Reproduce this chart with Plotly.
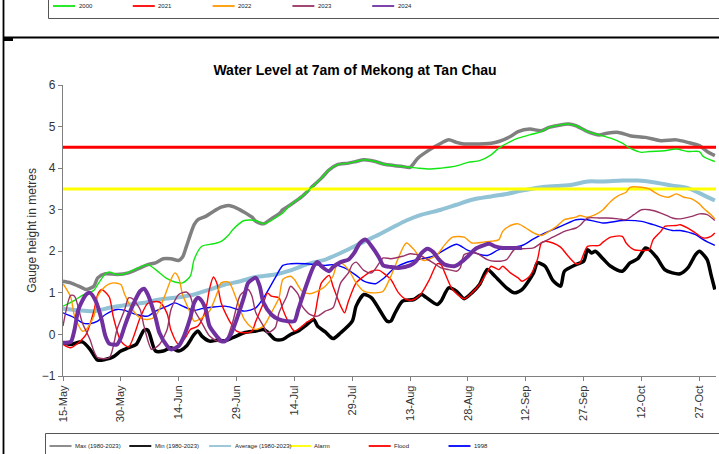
import plotly.graph_objects as go

# ---------------- data (day offset from 15-May, gauge height in metres) ----------------
TICK_DAYS = [0, 15, 30, 45, 60, 75, 90, 105, 120, 135, 150, 165]
TICK_LABELS = ["15-May", "30-May", "14-Jun", "29-Jun", "14-Jul", "29-Jul",
               "13-Aug", "28-Aug", "12-Sep", "27-Sep", "12-Oct", "27-Oct"]

ALARM_LEVEL = 3.5
FLOOD_LEVEL = 4.5
LAST_DAY = 169

MAX_1980_2023 = [(0,1.28),(2,1.24),(5,1.12),(6,1.08),(8,1.16),(9,1.36),(11,1.46),(14,1.44),(17,1.48),
    (20,1.6),(22,1.68),(24,1.72),(26,1.82),(28,1.82),(30,1.78),(31,1.86),(32,2.12),(34,2.64),(35,2.76),
    (37,2.84),(39,2.96),(41,3.06),(43,3.1),(45,3.04),(47,2.94),(49,2.82),(50,2.72),(52,2.66),(54,2.78),
    (56,2.9),(57,3.0),(59,3.12),(62,3.32),(64,3.5),(67,3.76),(69,3.96),(71,4.08),(74,4.12),(76,4.16),
    (78,4.2),(81,4.16),(83,4.1),(86,4.06),(88,4.04),(90,4.02),(92,4.24),(95,4.44),(98,4.6),(100,4.68),
    (102,4.62),(104,4.58),(106,4.58),(111,4.6),(113,4.64),(116,4.76),(118,4.88),(121,4.94),(124,4.9),
    (126,4.98),(129,5.04),(131,5.06),(133,5.02),(136,4.88),(139,4.8),(141,4.84),(144,4.86),(147,4.78),
    (151,4.74),(155,4.66),(159,4.68),(162,4.62),(165,4.54),(167,4.4),(169,4.3)]

MIN_1980_2023 = [(0,-0.2),(2,-0.24),(5,-0.18),(7,-0.36),(8,-0.5),(9,-0.62),(11,-0.6),(13,-0.54),
    (15,-0.4),(17,-0.32),(19,-0.24),(21,0.1),(22,0.1),(24,-0.4),(26,-0.4),(28,-0.32),(30,-0.4),
    (32,-0.28),(34,0.0),(35,0.08),(36,-0.04),(38,-0.16),(40,-0.14),(42,-0.15),(44,-0.08),(47,0.04),
    (50,0.08),(52,0.12),(53,0.06),(55,-0.12),(57,-0.12),(59,0.0),(61,0.08),(63,0.22),(65,0.36),
    (66,0.2),(68,0.06),(70,-0.1),(72,0.04),(75,0.32),(76,0.68),(78,0.96),(80,0.88),(82,0.6),(84,0.32),
    (85,0.32),(86,0.5),(88,0.8),(91,0.84),(93,0.96),(94,0.9),(97,0.72),(98,0.8),(100,1.12),(102,1.04),
    (104,0.86),(106,1.0),(108,1.2),(110,1.56),(112,1.4),(115,1.12),(117,1.0),(119,1.08),(122,1.48),
    (123,1.72),(125,1.64),(127,1.3),(129,1.16),(130,1.52),(133,1.68),(135,1.76),(136,2.04),(137,1.96),
    (138,2.0),(140,1.82),(142,1.64),(145,1.52),(147,1.72),(149,1.82),(151,2.08),(152,2.04),(154,1.84),
    (156,1.56),(158,1.48),(160,1.46),(162,1.6),(164,1.92),(165,2.0),(167,1.8),(168,1.44),(169,1.08)]

AVERAGE_1980_2023 = [(0,0.62),(4,0.58),(8,0.56),(12,0.64),(16,0.7),(21,0.76),(25,0.84),(29,0.88),
    (34,0.96),(38,1.08),(42,1.2),(46,1.28),(50,1.38),(55,1.44),(59,1.54),(63,1.68),(68,1.8),(72,1.96),
    (76,2.14),(81,2.36),(86,2.6),(89,2.74),(93,2.88),(98,3.0),(102,3.12),(106,3.24),(111,3.32),
    (115,3.38),(119,3.46),(124,3.54),(128,3.57),(132,3.6),(136,3.68),(140,3.68),(145,3.7),(149,3.7),
    (153,3.66),(158,3.58),(162,3.52),(165,3.4),(169,3.22)]

Y1998 = [(0,0.52),(3,0.4),(5,0.28),(7,0.26),(9,0.32),(11,0.48),(14,0.6),(16,0.58),(19,0.48),(22,0.44),
    (24,0.56),(27,0.68),(29,0.76),(31,0.68),(34,0.58),(36,0.62),(39,0.66),(42,0.68),(44,0.64),(47,0.56),
    (50,0.64),(52,0.88),(55,1.36),(57,1.66),(59,1.7),(63,1.7),(68,1.66),(70,1.68),(73,1.6),(76,1.42),
    (78,1.28),(81,1.22),(83,1.34),(86,1.6),(89,1.73),(92,1.8),(96,1.88),(102,2.17),(105,2.02),(110,1.9),
    (113,2.04),(119,2.14),(122,2.3),(125,2.44),(128,2.56),(130,2.64),(133,2.76),(136,2.76),(140,2.68),
    (145,2.74),(150,2.72),(153,2.64),(158,2.5),(160,2.5),(164,2.4),(166,2.28),(169,2.14)]

Y2000 = [(0,0.68),(3,0.82),(5,0.94),(8,1.06),(9,1.2),(11,1.46),(12,1.5),(14,1.44),(16,1.46),(19,1.58),
    (22,1.68),(24,1.56),(27,1.34),(29,1.26),(31,1.24),(33,1.4),(34,1.8),(36,2.12),(39,2.18),(41,2.24),
    (43,2.4),(44,2.52),(47,2.74),(50,2.74),(52,2.66),(54,2.74),(56,2.86),(57,2.92),(59,3.12),(62,3.32),
    (64,3.5),(67,3.76),(69,3.96),(71,4.08),(74,4.12),(76,4.16),(78,4.2),(81,4.16),(83,4.1),(86,4.06),
    (88,4.04),(90,4.02),(92,4.0),(95,3.98),(98,4.0),(100,4.02),(103,4.08),(105,4.14),(108,4.18),
    (111,4.32),(113,4.48),(116,4.64),(118,4.72),(121,4.8),(124,4.88),(126,4.98),(129,5.04),(131,5.06),
    (133,5.02),(136,4.88),(139,4.8),(142,4.72),(145,4.6),(147,4.48),(150,4.38),(152,4.4),(156,4.42),
    (159,4.46),(162,4.4),(165,4.4),(166,4.28),(169,4.16)]

Y2021 = [(0,-0.24),(2,-0.32),(4,-0.2),(6,0.0),(8,0.56),(9,0.96),(10,1.08),(12,0.9),(13,0.44),(15,-0.16),
    (17,-0.3),(20,0.4),(22,0.75),(25,0.78),(27,0.5),(28,0.1),(30,-0.24),(32,-0.04),(33,0.12),(35,0.2),
    (37,0.6),(38,1.1),(39,1.38),(40,1.2),(41,0.76),(43,0.35),(44,0.2),(45,0.08),(47,0.04),(49,0.08),
    (50,0.32),(52,0.76),(53,1.0),(54,0.92),(56,0.88),(57,0.6),(59,0.2),(60,0.08),(62,0.2),(63,0.28),
    (65,0.4),(66,0.84),(67,1.24),(69,1.42),(70,1.16),(72,0.68),(73,0.52),(74,0.8),(76,1.24),(78,1.4),
    (80,1.52),(82,1.54),(83,1.48),(85,1.32),(87,1.0),(89,0.84),(91,0.84),(93,1.0),(95,1.32),(97,1.7),
    (98,1.68),(99,1.48),(101,1.08),(104,0.86),(106,1.0),(108,1.2),(110,1.5),(111,1.64),(113,1.56),
    (114,1.64),(116,1.48),(118,1.36),(119,1.28),(121,1.4),(123,1.8),(124,2.2),(125,2.24),(127,2.2),
    (129,2.1),(131,1.88),(133,1.7),(134,1.72),(136,2.12),(139,2.14),(140,2.22),(142,2.34),(145,2.36),
    (146,2.2),(148,2.04),(150,2.02),(152,2.04),(153,2.28),(155,2.48),(156,2.6),(159,2.62),(160,2.64),
    (162,2.56),(164,2.44),(166,2.32),(168,2.36),(169,2.44)]

Y2022 = [(0,1.22),(2,0.9),(3,0.44),(5,0.08),(6,0.12),(8,0.44),(9,0.92),(11,1.16),(13,1.24),(15,1.2),
    (16,0.96),(18,0.6),(20,0.4),(22,0.36),(24,0.44),(26,0.84),(28,1.32),(29,1.48),(30,1.36),(31,0.96),
    (33,0.52),(34,0.32),(36,0.4),(38,0.56),(40,1.0),(41,1.24),(43,1.26),(45,0.84),(47,0.36),(49,0.16),
    (50,0.12),(52,0.2),(54,0.52),(56,0.88),(57,1.32),(59,1.4),(60,1.32),(62,1.04),(64,0.98),(66,1.04),
    (68,1.16),(70,1.4),(71,1.68),(72,1.72),(74,1.56),(76,1.24),(78,1.04),(81,1.0),(83,1.04),(85,1.4),
    (86,1.62),(89,2.2),(91,2.04),(93,1.8),(94,1.78),(97,1.92),(99,2.16),(101,2.34),(104,2.34),(106,2.2),
    (109,2.22),(111,2.24),(113,2.28),(114,2.48),(116,2.62),(118,2.66),(120,2.56),(122,2.44),(124,2.38),
    (126,2.48),(128,2.6),(130,2.76),(133,2.82),(134,2.86),(136,2.82),(138,2.88),(140,3.0),(142,3.2),
    (144,3.34),(146,3.42),(147,3.54),(150,3.54),(152,3.5),(153,3.44),(155,3.34),(157,3.3),(159,3.38),
    (161,3.3),(163,3.26),(165,3.14),(166,3.04),(168,2.88),(169,2.78)]

Y2023 = [(0,0.2),(2,0.94),(3,0.92),(5,0.28),(7,-0.12),(8,-0.4),(9,-0.56),(12,-0.56),(14,0.12),(16,0.6),
    (17,0.88),(18,0.86),(20,0.6),(21,0.2),(23,-0.36),(25,-0.24),(27,0.12),(28,0.6),(30,0.96),(32,1.02),
    (33,0.92),(34,0.6),(36,0.28),(38,-0.04),(40,-0.16),(42,-0.18),(44,0.3),(46,0.95),(48,1.08),(49,0.92),
    (50,0.52),(52,0.2),(53,0.04),(55,0.16),(56,0.52),(58,0.92),(59,1.16),(61,0.96),(62,0.68),(64,0.48),
    (66,0.44),(68,0.56),(70,0.64),(71,0.92),(72,1.24),(74,1.48),(75,1.68),(76,1.74),(78,1.54),(80,1.48),
    (82,1.72),(83,1.84),(85,1.82),(88,1.88),(90,1.94),(93,1.88),(96,1.72),(98,1.6),(100,1.56),(102,1.52),
    (103,1.6),(104,1.92),(107,1.96),(110,1.8),(112,1.76),(115,1.8),(117,2.04),(119,2.06),(122,2.08),
    (124,2.2),(127,2.34),(130,2.48),(133,2.56),(134,2.62),(136,2.8),(139,2.8),(141,2.8),(144,2.78),
    (146,2.76),(148,2.88),(150,3.0),(152,3.0),(155,2.92),(158,2.8),(160,2.78),(163,2.84),(165,2.9),
    (167,2.88),(169,2.74)]

Y2024 = [(0,-0.2),(2,-0.18),(3,0.12),(4,0.6),(6,0.96),(7,1.0),(8.5,0.8),(10,0.36),(11,-0.04),(12,-0.22),
    (14,-0.24),(15,-0.08),(16,0.2),(18,0.68),(20,1.04),(21,1.1),(22,0.96),(24,0.4),(25,0.04),(27,-0.28),
    (28,-0.36),(30,-0.28),(31,-0.12),(33,0.4),(34,0.76),(35,0.88),(36,0.8),(37,0.6),(38,0.2),(40,-0.06),
    (41,-0.16),(42,-0.16),(43.5,0.0),(45,0.36),(47,0.92),(48,1.24),(50,1.36),(51,1.16),(52,0.76),
    (54,0.48),(56,0.36),(58,0.32),(60,0.32),(61,0.6),(63,1.16),(65,1.64),(66,1.74),(67,1.64),(69,1.52),
    (70,1.62),(72,1.74),(74,1.8),(75.5,1.96),(77,2.2),(78.5,2.28),(80,2.12),(82,1.84),(83,1.66),(85,1.62),
    (87,1.6),(90,1.66),(91.5,1.76),(93,1.96),(94.5,2.06),(96,1.98),(97.5,1.8),(99,1.68),(101.5,1.64),
    (103,1.72),(105,1.88),(107,2.06),(109,2.14),(110.5,2.18),(112,2.12),(114,2.08),(116,2.08),(119,2.08)]

# ---------------- styling ----------------
FONT = "Liberation Sans, Arial, sans-serif"

# name, data, colour, width, legend row ("bottom" box or "top" box)
series = [
    ("Max (1980-2023)", MAX_1980_2023, "#808080", 3.5, "bottom"),
    ("Min (1980-2023)", MIN_1980_2023, "#000000", 3.5, "bottom"),
    ("Average (1980-2023)", AVERAGE_1980_2023, "#92C2D6", 4.0, "bottom"),
    ("Alarm", [(0, ALARM_LEVEL), (LAST_DAY + 0.3, ALARM_LEVEL)], "#FFFF00", 3.0, "bottom"),
    ("Flood", [(0, FLOOD_LEVEL), (LAST_DAY + 0.3, FLOOD_LEVEL)], "#FF0000", 3.0, "bottom"),
    ("1998", Y1998, "#0000FF", 1.4, "bottom"),
    ("2000", Y2000, "#12E612", 1.4, "top"),
    ("2021", Y2021, "#FF0000", 1.4, "top"),
    ("2022", Y2022, "#FF9900", 1.4, "top"),
    ("2023", Y2023, "#993366", 1.4, "top"),
    ("2024", Y2024, "#7030A0", 4.0, "top"),
]

fig = go.Figure()
for name, pts, color, width, row in series:
    xs = [p[0] for p in pts]
    ys = [p[1] for p in pts]
    shape = "linear" if len(pts) == 2 else "spline"
    fig.add_trace(go.Scatter(
        x=xs, y=ys, mode="lines", name=name, showlegend=False,
        line=dict(color=color, width=width, shape=shape, smoothing=0.7),
        hoverinfo="skip"))

W, H = 719, 454
L, R, T, B = 63, 3, 85, 78
PW, PH = W - L - R, H - T - B


def px(xp):
    return (xp - L) / PW


def py(yp):
    return (H - B - yp) / PH


shapes = [
    # outer frame pieces
    dict(type="line", xref="paper", yref="paper", x0=px(3.5), x1=px(3.5), y0=py(-5), y1=py(460),
         line=dict(color="black", width=1.8)),
    dict(type="line", xref="paper", yref="paper", x0=px(3), x1=px(725), y0=py(37.5), y1=py(37.5),
         line=dict(color="black", width=1.8)),
    dict(type="rect", xref="paper", yref="paper", x0=px(3), x1=px(13), y0=py(37), y1=py(41),
         fillcolor="black", line=dict(width=0)),
    # legend boxes
    dict(type="rect", xref="paper", yref="paper", x0=px(48.5), x1=px(730), y0=py(-10), y1=py(18.5),
         line=dict(color="#555555", width=1), fillcolor="rgba(0,0,0,0)"),
    dict(type="rect", xref="paper", yref="paper", x0=px(45.5), x1=px(730), y0=py(433.5), y1=py(470),
         line=dict(color="#555555", width=1), fillcolor="rgba(0,0,0,0)"),
]
annotations = []

# legend rows laid out like the reference (fixed 80 px pitch)
LEGEND_ROWS = {"bottom": (49.5, 446.0), "top": (53.0, 6.0)}
PITCH = 79.8
counters = {"bottom": 0, "top": 0}
for name, pts, color, width, row in series:
    x0, yrow = LEGEND_ROWS[row]
    xs = x0 + PITCH * counters[row]
    counters[row] += 1
    shapes.append(dict(type="line", xref="paper", yref="paper",
                       x0=px(xs), x1=px(xs + 22), y0=py(yrow), y1=py(yrow),
                       line=dict(color=color, width=1.8)))
    annotations.append(dict(text=name, xref="paper", yref="paper", x=px(xs + 23.5), y=py(yrow),
                            xanchor="left", yanchor="middle", showarrow=False,
                            font=dict(family=FONT, size=6, color="#222222")))

fig.update_layout(
    width=W, height=H,
    margin=dict(l=L, r=R, t=T, b=B, pad=0, autoexpand=False),
    paper_bgcolor="white", plot_bgcolor="white",
    font=dict(family=FONT, color="#333333"),
    title=dict(text="<b>Water Level at 7am of Mekong at Tan Chau</b>",
               font=dict(family=FONT, size=14, color="black"),
               x=355 / W, xref="container", xanchor="center",
               y=1 - 70 / H, yref="container", yanchor="middle"),
    showlegend=False,
    shapes=shapes,
    annotations=annotations,
    xaxis=dict(range=[0, LAST_DAY + 0.3], tickvals=TICK_DAYS, ticktext=TICK_LABELS,
               tickangle=-90, ticks="outside", ticklen=4, tickcolor="#808080",
               showline=True, linecolor="#808080", linewidth=1.2,
               showgrid=False, zeroline=False,
               tickfont=dict(family=FONT, size=11, color="#333333")),
    yaxis=dict(range=[-1, 6], dtick=1, ticks="outside", ticklen=4, tickcolor="#808080",
               showline=True, linecolor="#808080", linewidth=1.2,
               showgrid=False, zeroline=False,
               tickfont=dict(family=FONT, size=12, color="#333333"),
               title=dict(text="Gauge height in metres", standoff=2,
                          font=dict(family=FONT, size=12, color="#333333"))),
)

fig.write_html("out.html", config={"displayModeBar": False},
               post_script="document.body.style.margin='0';")
